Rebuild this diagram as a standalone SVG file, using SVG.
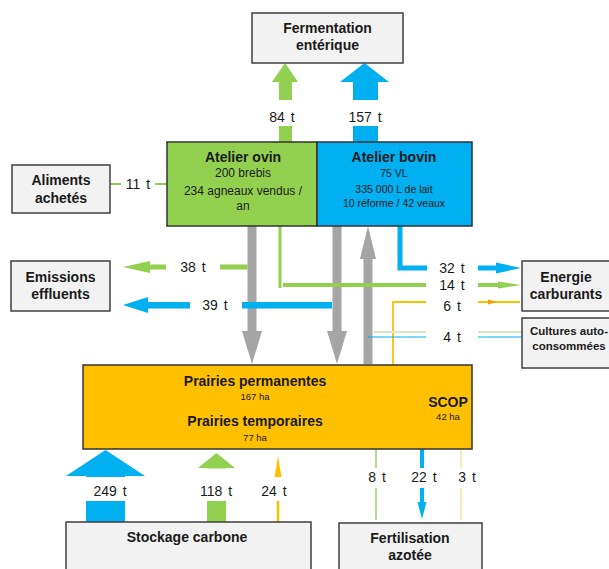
<svg xmlns="http://www.w3.org/2000/svg" width="609" height="569" viewBox="0 0 609 569">
<style>
.box{fill:#F2F2F2;stroke:#3F3F3F;stroke-width:1.5}
.t{font-family:"Liberation Sans",Arial,sans-serif;fill:#1A1A1A;text-anchor:middle}
.b{font-weight:bold;font-size:14px}
.lbl{font-size:14px;word-spacing:2px}
.gap{fill:#FFFFFF}
.gr{fill:#A5A5A5}
</style>
<rect width="609" height="569" fill="#FFFFFF"/>

<g id="connectors">
  <!-- fermentation arrows -->
  <polygon fill="#92D050" points="285,63 298,82 292,82 292,142 279,142 279,82 272,82"/>
  <polygon fill="#00B0F0" points="364.5,63 389,82 378,82 378,142 353,142 353,82 340,82"/>
  <rect class="gap" x="262" y="100" width="140" height="26"/>
  <text class="t lbl" x="282" y="122">84 t</text>
  <text class="t lbl" x="365" y="122">157 t</text>

  <!-- aliments -->
  <line x1="110" y1="184" x2="167" y2="184" stroke="#92D050" stroke-width="2"/>
  <rect class="gap" x="121" y="176" width="34" height="16"/>
  <text class="t lbl" x="138" y="189">11 t</text>

  <!-- gray arrows -->
  <polygon class="gr" points="247.5,226 256.5,226 256.5,331 262,331 252,364 242,331 247.5,331"/>
  <polygon class="gr" points="332.5,226 341.5,226 341.5,331 347,331 337,364 327,331 332.5,331"/>
  <polygon class="gr" points="368,226 376,259 372.5,259 372.5,364 363.5,364 363.5,259 360,259"/>

  <!-- 38 t green to emissions -->
  <rect fill="#92D050" x="150" y="264.5" width="97.5" height="5"/>
  <polygon fill="#92D050" points="123,267 150,261 150,273"/>
  <rect class="gap" x="166" y="259" width="54" height="18"/>
  <text class="t lbl" x="193" y="272">38 t</text>

  <!-- 39 t blue to emissions -->
  <rect fill="#00B0F0" x="148" y="302" width="184" height="6.5"/>
  <polygon fill="#00B0F0" points="123,305 148,297 148,313"/>
  <rect class="gap" x="190" y="296" width="52" height="18"/>
  <text class="t lbl" x="215" y="310">39 t</text>

  <!-- 14 t green L -->
  <line x1="280" y1="226" x2="280" y2="288" stroke="#92D050" stroke-width="3"/>
  <line x1="283" y1="285" x2="426" y2="285" stroke="#92D050" stroke-width="4"/>
  <line x1="478" y1="285" x2="508" y2="285" stroke="#92D050" stroke-width="4"/>
  <polygon fill="#92D050" points="521,285 498,281.5 498,288.5"/>
  <text class="t lbl" x="452" y="290">14 t</text>

  <!-- 32 t blue -->
  <polyline fill="none" stroke="#00B0F0" stroke-width="5" points="400,226 400,268 427,268"/>
  <line x1="478" y1="268" x2="498" y2="268" stroke="#00B0F0" stroke-width="5"/>
  <polygon fill="#00B0F0" points="521,268 496,262.5 496,273.5"/>
  <text class="t lbl" x="452" y="273">32 t</text>

  <!-- 6 t orange -->
  <polyline fill="none" stroke="#FFC000" stroke-width="1.8" points="393,365 393,302 426,302"/>
  <line x1="478" y1="302" x2="520" y2="302" stroke="#FFC000" stroke-width="1.8"/>
  <polygon fill="#F4A000" points="497,302 488,299.5 488,304.5"/>
  <text class="t lbl" x="452" y="311">6 t</text>

  <!-- 4 t -->
  <line x1="372" y1="332" x2="426" y2="332" stroke="#D5E8C4" stroke-width="1.8"/>
  <line x1="368" y1="337" x2="426" y2="337" stroke="#00B0F0" stroke-width="1.2"/>
  <line x1="478" y1="332" x2="522" y2="332" stroke="#D5E8C4" stroke-width="1.8"/>
  <line x1="478" y1="337" x2="522" y2="337" stroke="#00B0F0" stroke-width="1.2"/>
  <text class="t lbl" x="452" y="342">4 t</text>

  <!-- bottom: stockage carbone -->
  <polygon fill="#00B0F0" points="105.5,450 145,476 125,476 125,522 86,522 86,476 66,476"/>
  <polygon fill="#92D050" points="216.5,453 235,468 226,468 226,522 207,522 207,468 198,468"/>
  <line x1="278" y1="474" x2="278" y2="522" stroke="#FFC000" stroke-width="2.5"/>
  <polygon fill="#FFC000" points="278,456 281.5,477 274.5,477"/>
  <rect class="gap" x="80" y="477" width="210" height="24"/>
  <rect class="gap" x="198" y="468.5" width="40" height="9"/>
  <text class="t lbl" x="110" y="496">249 t</text>
  <text class="t lbl" x="216" y="496">118 t</text>
  <text class="t lbl" x="274" y="496">24 t</text>

  <!-- bottom: fertilisation -->
  <line x1="376" y1="449" x2="376" y2="520" stroke="#B5DB91" stroke-width="2"/>
  <line x1="422" y1="449" x2="422" y2="504" stroke="#00B0F0" stroke-width="4"/>
  <polygon fill="#00B0F0" points="422,519 426.5,502 417.5,502"/>
  <line x1="461" y1="449" x2="461" y2="520" stroke="#FFE9B0" stroke-width="2"/>
  <rect class="gap" x="362" y="468" width="112" height="20"/>
  <text class="t lbl" x="377" y="482">8 t</text>
  <text class="t lbl" x="424" y="482">22 t</text>
  <text class="t lbl" x="467" y="482">3 t</text>
</g>

<g id="fermentation">
  <rect class="box" x="252" y="13" width="151" height="50"/>
  <text class="t b" x="327.5" y="33">Fermentation</text>
  <text class="t b" x="327.5" y="50">entérique</text>
</g>

<g id="atelier-ovin">
  <rect x="167" y="142" width="150" height="84" fill="#92D050" stroke="#333333" stroke-width="1.5"/>
  <text class="t b" x="243" y="162">Atelier ovin</text>
  <text class="t" x="243" y="177" font-size="12">200 brebis</text>
  <text class="t" x="243" y="195" font-size="12">234 agneaux vendus /</text>
  <text class="t" x="243" y="210" font-size="12">an</text>
</g>

<g id="atelier-bovin">
  <rect x="317" y="142" width="155" height="84" fill="#00B0F0" stroke="#333333" stroke-width="1.5"/>
  <text class="t b" x="394" y="162">Atelier bovin</text>
  <text class="t" x="394" y="177" font-size="10.5">75 VL</text>
  <text class="t" x="394" y="192.5" font-size="10.5">335 000 L de lait</text>
  <text class="t" x="394" y="206.5" font-size="10.5">10 réforme / 42 veaux</text>
</g>

<g id="aliments">
  <rect class="box" x="12" y="165" width="98" height="48"/>
  <text class="t b" x="61" y="185">Aliments</text>
  <text class="t b" x="61" y="203">achetés</text>
</g>

<g id="emissions">
  <rect class="box" x="11" y="261" width="99" height="50"/>
  <text class="t b" x="60.5" y="282">Emissions</text>
  <text class="t b" x="60.5" y="299">effluents</text>
</g>

<g id="energie">
  <rect class="box" x="522" y="261" width="90" height="50"/>
  <text class="t b" x="566" y="282">Energie</text>
  <text class="t b" x="566" y="299">carburants</text>
</g>

<g id="cultures">
  <rect class="box" x="522" y="318" width="90" height="50"/>
  <text class="t" x="569" y="335" font-size="11.5" font-weight="bold">Cultures auto-</text>
  <text class="t" x="569" y="350" font-size="11.5" font-weight="bold">consommées</text>
</g>

<g id="prairies">
  <rect x="83" y="365" width="389" height="84" fill="#FFC000" stroke="#333333" stroke-width="1.5"/>
  <text class="t b" x="255" y="386">Prairies permanentes</text>
  <text class="t" x="255" y="400" font-size="9.5">167 ha</text>
  <text class="t b" x="255" y="426">Prairies temporaires</text>
  <text class="t" x="255" y="441" font-size="9.5">77 ha</text>
  <text class="t b" x="448" y="406.5">SCOP</text>
  <text class="t" x="448" y="420" font-size="9.5">42 ha</text>
</g>

<g id="stockage">
  <rect class="box" x="66" y="522" width="245" height="60"/>
  <text class="t b" x="187" y="542">Stockage carbone</text>
</g>

<g id="fertilisation">
  <rect class="box" x="339" y="523" width="143" height="60"/>
  <text class="t b" x="410" y="543">Fertilisation</text>
  <text class="t b" x="410" y="560">azotée</text>
</g>
</svg>
